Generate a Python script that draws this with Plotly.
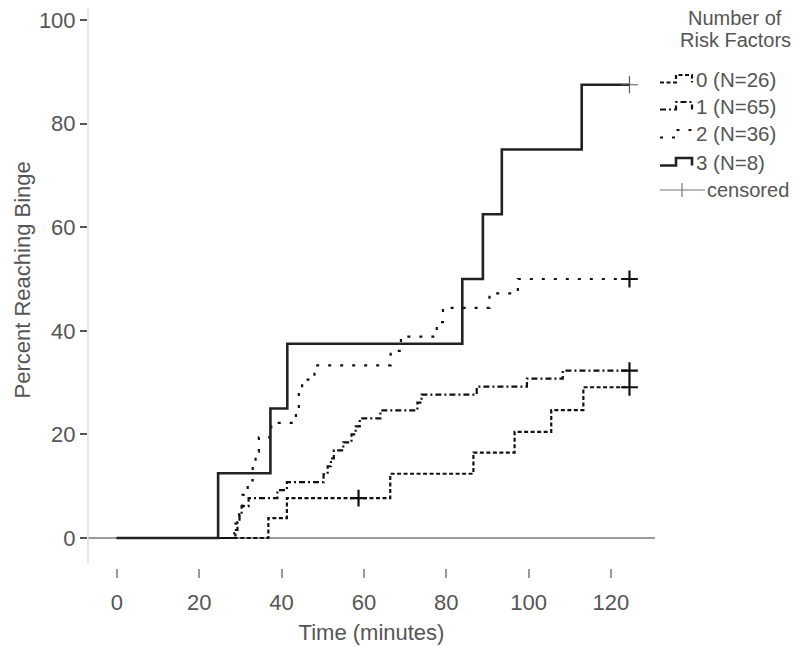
import plotly.graph_objects as go

# ---------------- data ----------------
groups = ["0 (N=26)", "1 (N=65)", "2 (N=36)", "3 (N=8)"]

time_0 = [0, 36.8, 41.3, 66.4, 86.6, 96.6, 105.5, 113.3, 124.5]
pct_0 = [0, 3.85, 7.69, 12.4, 16.5, 20.5, 24.7, 29.1, 29.1]

time_1 = [0, 28.5, 29.3, 29.8, 30.3, 32.0, 39.0, 41.3, 50.2, 51.2, 52.0, 52.7,
          55.0, 57.0, 58.0, 59.0, 64.0, 73.0, 74.0, 87.4, 99.6, 108.3, 124.5]
pct_1 = [0, 1.54, 3.08, 4.62, 6.15, 7.69, 9.23, 10.77, 12.31, 13.85, 15.38, 16.92,
         18.46, 20.0, 21.54, 23.08, 24.62, 26.15, 27.69, 29.23, 30.77, 32.31, 32.31]

time_2 = [0, 28.8, 29.7, 30.5, 31.8, 33.0, 33.7, 34.5, 37.5, 43.5, 44.2, 45.0,
          48.0, 66.5, 69.0, 77.7, 79.2, 90.5, 97.4, 124.5]
pct_2 = [0, 2.78, 5.56, 8.33, 11.11, 13.89, 16.67, 19.44, 22.22, 25.0, 27.78, 30.56,
         33.33, 36.11, 38.89, 41.67, 44.44, 47.22, 50.0, 50.0]

time_3 = [0, 24.6, 37.3, 41.4, 83.9, 88.9, 93.5, 112.9, 124.5]
pct_3 = [0, 12.5, 25.0, 37.5, 50.0, 62.5, 75.0, 87.5, 87.5]

censor_time = [58.7, 124.5, 124.5, 124.5, 124.5]
censor_pct = [7.69, 29.1, 32.31, 50.0, 87.5]

x_ticks = [0, 20, 40, 60, 80, 100, 120]
y_ticks = [0, 20, 40, 60, 80, 100]

# ---------------- styling ----------------
FONT = "Liberation Sans, Arial, sans-serif"
TXT = "#555555"
OFF = 8                                # page body margin
SW, SH = 800, 647                      # screen size
L, R, T, B = 88, 655, 8, 568           # plot area in screen pixels
X_RANGE = [-7.0, 130.7]
Y_RANGE = [(B - 538) / -5.18, (538 - T) / 5.18]

styles = [
    dict(color="#111111", width=2.2, dash="4px,2.5px"),
    dict(color="#111111", width=2.2, dash="6px,3px,2px,3px"),
    dict(color="#111111", width=2.2, dash="3px,9px"),
    dict(color="#222222", width=2.6, dash="solid"),
]

fig = go.Figure()
series = [(time_0, pct_0), (time_1, pct_1), (time_2, pct_2), (time_3, pct_3)]
for (t, v), st, name in zip(series, styles, groups):
    fig.add_trace(go.Scatter(x=t, y=v, mode="lines", line_shape="hv",
                             line=st, name=name, showlegend=False,
                             hoverinfo="skip"))

fig.add_trace(go.Scatter(x=censor_time[:4], y=censor_pct[:4], mode="markers",
                         marker=dict(symbol="cross-thin", size=12,
                                     line=dict(color="#111111", width=2.2)),
                         showlegend=False, hoverinfo="skip"))
fig.add_trace(go.Scatter(x=censor_time[4:], y=censor_pct[4:], mode="markers",
                         marker=dict(symbol="cross-thin", size=12,
                                     line=dict(color="#555555", width=1.2)),
                         showlegend=False, hoverinfo="skip"))


def px(xs):
    return (xs - L) / (R - L)


def py(ys):
    return (B - ys) / (B - T)


shapes = []
shapes.append(dict(type="line", xref="paper", yref="paper",
                   x0=0, x1=0, y0=py(563), y1=1,
                   line=dict(color="#d9d9d9", width=1.2)))

annotations = []
# y axis title
annotations.append(dict(text="Percent Reaching Binge", xref="paper", yref="paper",
                        x=px(21.5), y=py(280), xanchor="center", yanchor="middle",
                        textangle=-90, showarrow=False,
                        font=dict(family=FONT, size=22, color=TXT)))
# legend
for txt, yy in [("Number of", 18), ("Risk Factors", 40)]:
    annotations.append(dict(text=txt, xref="paper", yref="paper",
                            x=px(735), y=py(yy), xanchor="center", yanchor="middle",
                            showarrow=False, font=dict(family=FONT, size=20, color=TXT)))

entry_y = [79, 106, 134, 162]
for name, st, cy in zip(groups, styles, entry_y):
    path = "M {} {} L {} {} L {} {} L {} {} L {} {}".format(
        px(660), py(cy + 3.5), px(676), py(cy + 3.5), px(676), py(cy - 4),
        px(692), py(cy - 4), px(692), py(cy + 3.5))
    shapes.append(dict(type="path", xref="paper", yref="paper", path=path,
                       line=dict(color=st["color"], width=st["width"], dash=st["dash"])))
    annotations.append(dict(text=name, xref="paper", yref="paper",
                            x=px(694), y=py(cy), xanchor="left", yanchor="middle",
                            showarrow=False, font=dict(family=FONT, size=20.5, color=TXT)))

shapes.append(dict(type="line", xref="paper", yref="paper",
                   x0=px(660), x1=px(705), y0=py(190), y1=py(190),
                   line=dict(color="#777777", width=1.2)))
shapes.append(dict(type="line", xref="paper", yref="paper",
                   x0=px(682), x1=px(682), y0=py(183), y1=py(197),
                   line=dict(color="#777777", width=1.2)))
annotations.append(dict(text="censored", xref="paper", yref="paper",
                        x=px(705), y=py(190), xanchor="left", yanchor="middle",
                        showarrow=False, font=dict(family=FONT, size=20, color=TXT)))

fig.update_layout(
    width=SW - OFF, height=SH - OFF,
    margin=dict(l=L - OFF, r=SW - R, t=T - OFF, b=SH - B, pad=0),
    plot_bgcolor="white", paper_bgcolor="white",
    font=dict(family=FONT, size=22, color=TXT),
    shapes=shapes, annotations=annotations,
    showlegend=False,
)
fig.update_xaxes(range=X_RANGE, tickvals=x_ticks, ticktext=[str(v) for v in x_ticks],
                 showgrid=False, zeroline=False, showline=False,
                 ticks="outside", ticklen=9, tickwidth=1.5, tickcolor="#999999",
                 ticklabelstandoff=6,
                 tickfont=dict(family=FONT, size=22, color=TXT),
                 title=dict(text="Time (minutes)", standoff=10,
                            font=dict(family=FONT, size=22, color=TXT)))
fig.update_yaxes(range=Y_RANGE, tickvals=y_ticks, ticktext=[str(v) for v in y_ticks],
                 showgrid=False, zeroline=True, zerolinecolor="#9a9a9a", zerolinewidth=1.5,
                 showline=False, ticklabeloverflow="allow",
                 ticks="outside", ticklen=7, tickwidth=1.5, tickcolor="#555555",
                 tickfont=dict(family=FONT, size=22, color=TXT))

fig.write_html("out.html")
